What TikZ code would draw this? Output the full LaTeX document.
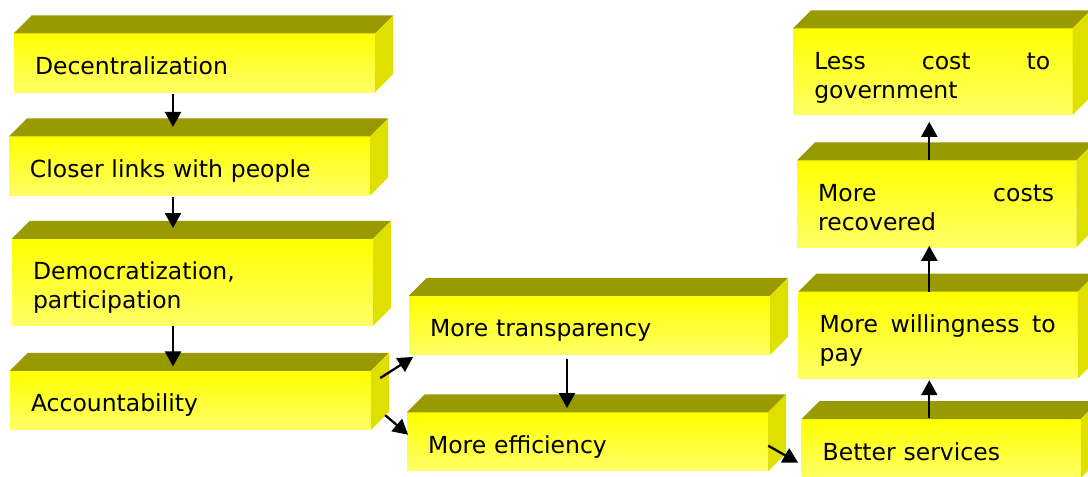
\documentclass[tikz,border=0pt]{standalone}
\usepackage{fontspec}
\newfontfamily\boxfont{DejaVu Sans}
\usetikzlibrary{arrows.meta}
\definecolor{topc}{HTML}{999900}
\definecolor{sidec}{HTML}{E0E000}
\definecolor{fronttop}{HTML}{FFFF00}
\definecolor{frontbot}{HTML}{FFFF66}
\newcommand\cubesides[1]{%
  \fill[topc] (#1.north west) -- ([shift={(18pt,18pt)}]#1.north west) -- ([shift={(18pt,18pt)}]#1.north east) -- (#1.north east) -- cycle;
  \fill[sidec] (#1.north east) -- ([shift={(18pt,18pt)}]#1.north east) -- ([shift={(18pt,18pt)}]#1.south east) -- (#1.south east) -- cycle;}
\newcommand\jline[1]{\hbox to 236pt{#1}}
\begin{document}
\begin{tikzpicture}[x=1pt,y=-1pt,
  boxbase/.style={rectangle, draw=none, inner sep=0pt, top color=fronttop, bottom color=frontbot,
    minimum width=361pt, text width=319pt, align=left,
    font=\boxfont\fontsize{23.5pt}{29.3pt}\selectfont},
  oneline/.style={boxbase, minimum height=58.5pt, text height=23pt, text depth=0pt},
  twoline/.style={boxbase, minimum height=86.5pt, text height=23pt, text depth=28.3pt},
  narrow/.style={minimum width=279pt, text width=237pt},
  arr/.style={-{Triangle[length=15pt,width=16pt]}, line width=2.3pt, black}]
\useasboundingbox (0,0) rectangle (1088,477);
\fill[white] (0,0) rectangle (1088,477);
\clip (0,0) rectangle (1088,477);

\node[oneline] (dec) at (194.5,62.8) {Decentralization};
\node[oneline] (clo) at (189.5,165.9) {Closer links with people};
\node[twoline] (dem) at (192.5,282.2) {Democratization,\\participation};
\node[oneline] (acc) at (190.5,400.2) {Accountability};
\node[oneline] (tra) at (589.5,325.2) {More transparency};
\node[oneline] (eff) at (587.5,441.7) {More efficiency};
\node[twoline,narrow] (les) at (932.8,71.7) {\jline{Less\hfill cost\hfill to}\\government};
\node[twoline,narrow] (rec) at (936.7,203.8) {\jline{More\hfill costs}\\recovered};
\node[twoline,narrow] (wil) at (938.2,335) {\jline{More\hfill willingness\hfill to}\\pay};
\node[oneline,narrow] (bet) at (941.2,448.5) {Better services};

\foreach \b in {dec,clo,dem,acc,tra,eff,les,rec,wil,bet} {\cubesides{\b}}

\draw[arr] ([xshift=-21.5pt,yshift=-1.7pt]dec.south) -- ([xshift=-16.5pt,yshift=9.5pt]clo.north);
\draw[arr] ([xshift=-16.5pt,yshift=-2pt]clo.south) -- ([xshift=-19.5pt,yshift=10.7pt]dem.north);
\draw[arr] ([xshift=-19.5pt]dem.south) -- ([xshift=-17.5pt,yshift=4.3pt]acc.north);
\draw[arr] ([xshift=9pt,yshift=-7.3pt]acc.north east) -- ([xshift=4.3pt,yshift=-2.3pt]tra.south west);
\draw[arr] ([xshift=14pt,yshift=14.5pt]acc.south east) -- ([xshift=1.3pt,yshift=-22.5pt]eff.north west);
\draw[arr] ([xshift=-22.5pt,yshift=-4.5pt]tra.south) -- ([xshift=-20.5pt,yshift=4.2pt]eff.north);
\draw[arr] ([yshift=-4pt]eff.east) -- ([xshift=-3.4pt,yshift=-14.2pt]bet.west);
\draw[arr] ([xshift=-11.9pt,yshift=1.2pt]bet.north) -- ([xshift=-8.9pt,yshift=-1.75pt]wil.south);
\draw[arr] ([xshift=-8.9pt]wil.north) -- ([xshift=-7.4pt,yshift=1.4pt]rec.south);
\draw[arr] ([xshift=-7.4pt]rec.north) -- ([xshift=-3.5pt,yshift=-6.75pt]les.south);
\end{tikzpicture}
\end{document}
